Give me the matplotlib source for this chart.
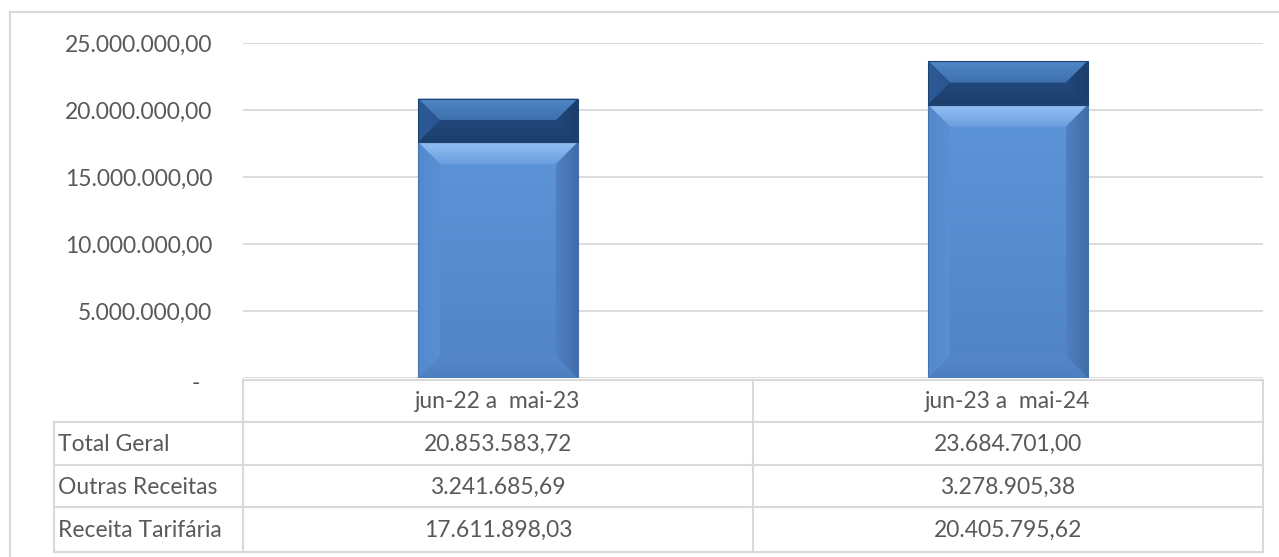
import matplotlib
matplotlib.use("Agg")
import matplotlib.pyplot as plt
import numpy as np
from matplotlib.patches import Polygon, Rectangle
from matplotlib.colors import LinearSegmentedColormap
from matplotlib.lines import Line2D
from matplotlib.transforms import ScaledTranslation

# ---- data ----
categories = ["jun-22 a  mai-23", "jun-23 a  mai-24"]
receita_tarifaria = [17611898.03, 20405795.62]
outras_receitas = [3241685.69, 3278905.38]
total_geral = [20853583.72, 23684701.00]
row_labels = ["Total Geral", "Outras Receitas", "Receita Tarifária"]
y_ticks = [0, 5e6, 10e6, 15e6, 20e6, 25e6]

FONT = "Lato"
FS = 16.5
TXT = "#595959"
GRID = "#D9D9D9"


def fmt_br(v):
    s = f"{v:,.2f}"
    return s.replace(",", "X").replace(".", ",").replace("X", ".")


W, H = 1279, 557
fig = plt.figure(figsize=(W / 100, H / 100), dpi=100)
fig.patch.set_facecolor("white")


def fx(px):
    return px / W


def fy(py):
    return 1 - py / H


# plot area
ax_left, ax_right, ax_top, ax_bottom = 243, 1263, 43, 378
ax = fig.add_axes([fx(ax_left), fy(ax_bottom), fx(ax_right - ax_left),
                   (ax_bottom - ax_top) / H])
ax.set_xlim(-0.5, 1.5)
ax.set_ylim(0, 25e6)
for sp in ax.spines.values():
    sp.set_visible(False)
ax.set_xticks([])
ax.set_yticks(y_ticks)
ax.set_yticklabels(["-" if t == 0 else fmt_br(t) for t in y_ticks],
                   fontfamily=FONT, fontsize=FS, color=TXT)
ax.tick_params(axis="y", length=0, pad=22)
for lbl, t in zip(ax.get_yticklabels(), y_ticks):
    if t == 0:
        lbl.set_transform(lbl.get_transform() +
                          ScaledTranslation(-12 / 100, -4 / 100, fig.dpi_scale_trans))
ax.yaxis.grid(True, color=GRID, linewidth=1.3)
ax.set_axisbelow(True)

# data units per pixel
px_x = 2.0 / (ax_right - ax_left)
px_y = 25e6 / (ax_bottom - ax_top)


def grad_poly(ax, pts, c0, c1, direction):
    """Fill polygon pts with a linear gradient c0->c1 along direction."""
    pts = np.asarray(pts)
    xmin, ymin = pts.min(axis=0)
    xmax, ymax = pts.max(axis=0)
    cmap = LinearSegmentedColormap.from_list("g", [c0, c1])
    n = 64
    if direction == "down":      # c0 at top, c1 at bottom
        arr = np.linspace(0, 1, n).reshape(n, 1)
    elif direction == "up":      # c0 at bottom, c1 at top
        arr = np.linspace(1, 0, n).reshape(n, 1)
    elif direction == "right":   # c0 at left, c1 at right
        arr = np.linspace(0, 1, n).reshape(1, n)
    else:                        # c0 at right, c1 at left
        arr = np.linspace(1, 0, n).reshape(1, n)
    poly = Polygon(pts, closed=True, facecolor="none", edgecolor="none")
    ax.add_patch(poly)
    im = ax.imshow(arr, cmap=cmap, extent=(xmin, xmax, ymin, ymax),
                   origin="upper", aspect="auto", interpolation="bilinear",
                   zorder=3)
    im.set_clip_path(poly)


def bevel_bar(ax, xc, y0, y1, width, pal, bev_px=22):
    x0, x1 = xc - width / 2, xc + width / 2
    bx = bev_px * px_x
    by = bev_px * px_y
    by = min(by, (y1 - y0) / 2)
    bxi = min(bx, width / 2)
    # centre face
    grad_poly(ax, [(x0, y0), (x1, y0), (x1, y1), (x0, y1)],
              pal["c_top"], pal["c_bot"], "down")
    # top bevel
    grad_poly(ax, [(x0, y1), (x1, y1), (x1 - bxi, y1 - by), (x0 + bxi, y1 - by)],
              pal["t0"], pal["t1"], "down")
    # bottom bevel
    grad_poly(ax, [(x0, y0), (x1, y0), (x1 - bxi, y0 + by), (x0 + bxi, y0 + by)],
              pal["b0"], pal["b1"], "up")
    # left bevel
    grad_poly(ax, [(x0, y0), (x0 + bxi, y0 + by), (x0 + bxi, y1 - by), (x0, y1)],
              pal["l0"], pal["l1"], "right")
    # right bevel
    grad_poly(ax, [(x1, y0), (x1 - bxi, y0 + by), (x1 - bxi, y1 - by), (x1, y1)],
              pal["r0"], pal["r1"], "left")
    ax.add_patch(Rectangle((x0, y0), width, y1 - y0, facecolor="none",
                           edgecolor=pal["edge"], linewidth=0.8, zorder=4))


light = dict(c_top="#5E94D8", c_bot="#5084C7",
             t0="#93BEF2", t1="#6C9FE0",
             b0="#4D7EBF", b1="#5588CA",
             l0="#5589CE", l1="#5B8FD3",
             r0="#416CA8", r1="#5081C3",
             edge="#4472AE")
dark = dict(c_top="#254C84", c_bot="#21467B",
            t0="#5187C8", t1="#3E70AE",
            b0="#1C3F6C", b1="#22477B",
            l0="#2C5A97", l1="#2A5590",
            r0="#1B3E6B", r1="#214679",
            edge="#1E426F")

bar_w = 160 * px_x
for i in range(len(categories)):
    bevel_bar(ax, i, 0, receita_tarifaria[i], bar_w, light)
    bevel_bar(ax, i, receita_tarifaria[i],
              receita_tarifaria[i] + outras_receitas[i], bar_w, dark, bev_px=22)

ax.set_xlim(-0.5, 1.5)
ax.set_ylim(0, 25e6)

# ---- data table under the plot ----
def hline(y, xa, xb):
    fig.add_artist(Line2D([fx(xa), fx(xb)], [fy(y), fy(y)], color=GRID,
                          linewidth=1.5, transform=fig.transFigure))


def vline(x, ya, yb):
    fig.add_artist(Line2D([fx(x), fx(x)], [fy(ya), fy(yb)], color=GRID,
                          linewidth=1.5, transform=fig.transFigure))


tbl_left = 54
col_edges = [243, 753, 1263]
row_edges = [380, 422, 465, 507, 552]

hline(row_edges[0], col_edges[0], col_edges[-1])
for y in row_edges[1:]:
    hline(y, tbl_left, col_edges[-1])
vline(tbl_left, row_edges[1], row_edges[-1])
for x in col_edges:
    vline(x, row_edges[0], row_edges[-1])

col_centres = [(col_edges[i] + col_edges[i + 1]) / 2 for i in range(2)]
for i, cat in enumerate(categories):
    fig.text(fx(col_centres[i]), fy((row_edges[0] + row_edges[1]) / 2 + 1), cat,
             ha="center", va="center", fontfamily=FONT, fontsize=FS, color=TXT)

rows = [total_geral, outras_receitas, receita_tarifaria]
for r, (lab, vals) in enumerate(zip(row_labels, rows)):
    yc = (row_edges[r + 1] + row_edges[r + 2]) / 2 + 1
    fig.text(fx(tbl_left + 4), fy(yc), lab, ha="left", va="center",
             fontfamily=FONT, fontsize=FS, color=TXT)
    for i, v in enumerate(vals):
        fig.text(fx(col_centres[i]), fy(yc), fmt_br(v), ha="center", va="center",
                 fontfamily=FONT, fontsize=FS, color=TXT)

# outer chart frame
fig.add_artist(Line2D([fx(10), fx(10)], [fy(12), fy(H + 5)], color=GRID,
                      linewidth=1.5, transform=fig.transFigure))
fig.add_artist(Line2D([fx(10), fx(W + 5)], [fy(12), fy(12)], color=GRID,
                      linewidth=1.5, transform=fig.transFigure))

fig.savefig("out.png", dpi=100, facecolor="white")
